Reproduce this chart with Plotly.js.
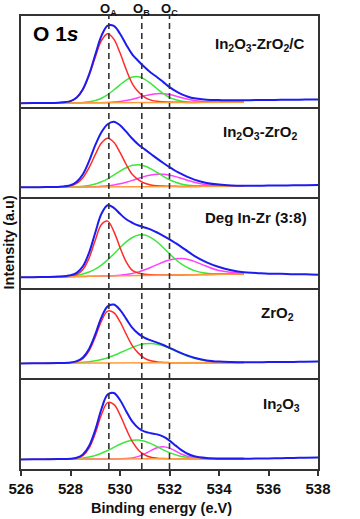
<!DOCTYPE html>
<html><head><meta charset="utf-8">
<script src="https://cdn.plot.ly/plotly-3.0.1.min.js"></script>
<style>html,body{margin:0;padding:0;background:#fff}#chart{width:360px;height:519px}</style>
</head><body><div id="chart"></div>
<script>
const ENERGY_FULL = [526, 526.5, 527, 527.5, 528, 528.25, 528.5, 528.75, 529, 529.25, 529.5, 529.75, 530, 530.25, 530.5, 530.75, 531, 531.25, 531.5, 531.75, 532, 532.25, 532.5, 532.75, 533, 533.5, 534, 534.5, 535, 535.5, 536, 536.5, 537, 537.5, 538];
const ENERGY_FIT = [527, 527.5, 528, 528.25, 528.5, 528.75, 529, 529.25, 529.5, 529.75, 530, 530.25, 530.5, 530.75, 531, 531.25, 531.5, 531.75, 532, 532.25, 532.5, 532.75, 533, 533.5, 534, 535];
const BG_ENERGY = [526, 535];
const TICK_VALUES = [526, 528, 530, 532, 534, 536, 538];
const PEAK_LINES = [529.55, 530.88, 532.0];
const PEAK_LABELS = ['O<sub>A</sub>', 'O<sub>B</sub>', 'O<sub>C</sub>'];
const SAMPLE_NAMES = ['In<sub>2</sub>O<sub>3</sub>-ZrO<sub>2</sub>/C', 'In<sub>2</sub>O<sub>3</sub>-ZrO<sub>2</sub>', 'Deg In-Zr (3:8)', 'ZrO<sub>2</sub>', 'In<sub>2</sub>O<sub>3</sub>'];

// Panel 1: In2O3-ZrO2/C
const P1_ENVELOPE = [3.4, 3.5, 3.6, 3.9, 5.5, 9.1, 17.4, 32.1, 51.8, 70.7, 81.0, 80.8, 72.9, 61.9, 52.0, 45.4, 39.3, 33.8, 29.4, 24.5, 19.5, 15.5, 12.3, 9.9, 8.3, 6.8, 6.5, 6.3, 6.4, 6.5, 6.6, 6.8, 6.9, 7.0, 7.2];
const P1_OA = [3.6, 3.75, 5.4, 8.9, 17.0, 31.1, 49.4, 66.1, 72.9, 67.5, 53.8, 37.1, 22.8, 14.5, 9.2, 6.5, 5.25, 4.8, 4.5, 4.3, 4.25, 4.2, 4.2, 4.25, 4.3, 4.4];
const P1_OB = [3.6, 3.65, 3.75, 3.85, 4.15, 4.8, 6.1, 8.35, 12.0, 16.6, 21.8, 26.5, 29.5, 29.8, 27.3, 22.9, 17.8, 13.0, 9.2, 6.8, 5.35, 4.7, 4.4, 4.25, 4.3, 4.4];
const P1_OC = [3.6, 3.65, 3.7, 3.7, 3.75, 3.8, 3.85, 3.95, 4.15, 4.5, 5.1, 6.1, 7.45, 9.1, 10.8, 12.2, 12.95, 12.9, 12.0, 10.6, 8.95, 7.4, 6.1, 4.75, 4.4, 4.4];
const P1_BG = [3.5, 4.4];

// Panel 2: In2O3-ZrO2
const P2_ENVELOPE = [10.0, 10.0, 10.1, 10.3, 12.0, 15.5, 23.0, 36.0, 52.0, 65.0, 73.0, 75.5, 72.0, 65.5, 58.5, 52.5, 47.8, 43.2, 38.6, 34.2, 30.0, 26.2, 23.0, 20.0, 17.6, 14.3, 12.6, 11.8, 11.5, 11.5, 11.6, 11.7, 11.9, 12.0, 12.2];
const P2_OA = [10.0, 10.1, 11.3, 13.9, 19.5, 29.5, 42.5, 54.2, 59.0, 55.0, 44.8, 32.7, 22.6, 17.3, 13.9, 12.3, 11.5, 11.1, 11.0, 10.85, 10.8, 10.75, 10.8, 10.85, 10.9, 11.0];
const P2_OB = [10.0, 10.05, 10.25, 10.5, 11.0, 11.8, 13.25, 15.4, 18.4, 22.15, 26.1, 29.5, 31.85, 32.5, 31.2, 28.35, 24.7, 20.9, 17.45, 14.9, 13.0, 11.95, 11.35, 10.95, 10.9, 11.0];
const P2_OC = [10.0, 10.05, 10.1, 10.15, 10.25, 10.35, 10.55, 10.9, 11.4, 12.25, 13.4, 15.0, 16.85, 18.9, 20.8, 22.25, 23.0, 22.9, 22.05, 20.6, 18.7, 16.75, 15.0, 12.55, 11.4, 11.0];
const P2_BG = [9.95, 11.0];

// Panel 3: Deg In-Zr (3:8)
const P3_ENVELOPE = [10.5, 10.6, 10.8, 11.2, 12.5, 15.0, 21.5, 35.0, 55.0, 74.0, 82.5, 80.0, 74.0, 68.5, 65.0, 62.3, 60.3, 58.2, 55.3, 52.0, 48.5, 44.6, 40.5, 36.2, 32.0, 25.5, 20.8, 17.6, 15.6, 14.9, 14.1, 14.0, 13.5, 13.5, 13.1];
const P3_OA = [10.7, 10.9, 11.5, 13.1, 18.2, 29.7, 47.5, 63.4, 66.7, 56.5, 40.3, 26.0, 17.5, 14.8, 13.5, 13.0, 12.8, 12.75, 12.75, 12.8, 12.9, 13.0, 13.1, 13.3, 13.5, 13.8];
const P3_OB = [10.7, 11.05, 11.8, 12.55, 13.8, 15.8, 18.7, 22.7, 27.9, 33.8, 40.1, 45.9, 50.3, 52.8, 52.7, 50.2, 45.8, 40.1, 34.0, 28.3, 23.5, 19.9, 17.2, 14.6, 13.8, 13.8];
const P3_OC = [10.7, 10.9, 11.1, 11.2, 11.3, 11.45, 11.55, 11.7, 11.9, 12.15, 12.6, 13.3, 14.4, 15.95, 18.0, 20.5, 23.2, 25.8, 27.8, 29.05, 29.2, 28.2, 26.4, 21.5, 17.3, 14.2];
const P3_BG = [10.5, 13.8];

// Panel 4: ZrO2
const P4_ENVELOPE = [15.0, 15.1, 15.2, 15.4, 16.0, 17.3, 21.0, 29.5, 44.0, 61.0, 72.0, 73.8, 68.5, 59.5, 50.5, 44.5, 40.5, 38.0, 35.8, 33.4, 30.6, 27.8, 25.0, 22.6, 20.6, 18.0, 16.8, 16.3, 16.1, 16.2, 16.3, 16.4, 16.5, 16.7, 16.8];
const P4_OA = [15.2, 15.25, 15.55, 16.5, 19.7, 27.5, 41.25, 57.35, 67.3, 65.7, 56.7, 44.2, 32.55, 25.05, 20.1, 17.6, 16.5, 16.0, 15.75, 15.6, 15.55, 15.6, 15.6, 15.65, 15.7, 15.8];
const P4_OB = [15.2, 15.3, 15.5, 15.7, 16.05, 16.65, 17.55, 18.9, 20.7, 22.9, 25.6, 28.3, 31.05, 33.3, 34.6, 35.0, 34.2, 32.5, 30.15, 27.35, 24.6, 22.1, 20.1, 17.45, 16.25, 15.8];
const P4_BG = [15.1, 15.8];

// Panel 5: In2O3
const P5_ENVELOPE = [9.6, 9.7, 9.8, 9.9, 10.3, 11.3, 14.5, 23.0, 39.0, 60.0, 74.5, 76.0, 69.0, 57.8, 47.3, 40.8, 37.4, 35.8, 34.6, 32.3, 28.4, 23.4, 18.6, 15.0, 12.7, 10.9, 10.3, 10.2, 10.3, 10.4, 10.6, 10.8, 11.0, 11.3, 11.5];
const P5_OA = [9.8, 9.85, 10.0, 10.7, 13.35, 20.85, 35.5, 54.35, 66.35, 64.55, 54.2, 40.1, 27.3, 18.8, 14.05, 11.65, 10.8, 10.45, 10.3, 10.25, 10.25, 10.3, 10.3, 10.35, 10.4, 10.5];
const P5_OB = [9.8, 9.9, 10.15, 10.5, 11.05, 12.05, 13.5, 15.7, 18.45, 21.55, 24.75, 27.3, 28.8, 29.05, 27.75, 25.35, 22.35, 19.15, 16.4, 14.1, 12.5, 11.5, 10.9, 10.5, 10.4, 10.5];
const P5_OC = [9.8, 9.85, 9.9, 9.9, 9.95, 9.95, 10.0, 10.0, 10.05, 10.1, 10.2, 10.45, 11.1, 12.6, 15.15, 18.45, 21.25, 22.3, 20.9, 17.9, 14.75, 12.45, 11.15, 10.4, 10.4, 10.5];
const P5_BG = [9.7, 10.5];

const PANELS = [
  {env: P1_ENVELOPE, oa: P1_OA, ob: P1_OB, oc: P1_OC, bg: P1_BG},
  {env: P2_ENVELOPE, oa: P2_OA, ob: P2_OB, oc: P2_OC, bg: P2_BG},
  {env: P3_ENVELOPE, oa: P3_OA, ob: P3_OB, oc: P3_OC, bg: P3_BG},
  {env: P4_ENVELOPE, oa: P4_OA, ob: P4_OB, oc: null, bg: P4_BG},
  {env: P5_ENVELOPE, oa: P5_OA, ob: P5_OB, oc: P5_OC, bg: P5_BG}
];

const COLORS = {env: '#1c1cf0', oa: '#ff2a2a', ob: '#3ee63e', oc: '#ff40ff', bg: '#ff9b3d'};
const FONT = 'Liberation Sans, Arial, sans-serif';
const AXIS_COLOR = '#333333';
const N = PANELS.length;
const LABEL_POS = [
  {x: 0.9596, y: 0.937},
  {x: 0.936, y: 0.743},
  {x: 0.970, y: 0.556},
  {x: 0.926, y: 0.343},
  {x: 0.946, y: 0.1413}
];

const traces = [];
const layout = {
  width: 360, height: 519,
  margin: {l: 21, r: 42, t: 16, b: 50},
  paper_bgcolor: '#ffffff', plot_bgcolor: '#ffffff',
  showlegend: false,
  font: {family: FONT, color: '#111'},
  shapes: [], annotations: []
};

PANELS.forEach((p, i) => {
  const k = i + 1;
  const sfx = k === 1 ? '' : String(k);
  const xa = 'x' + sfx, ya = 'y' + sfx;
  [[p.oc, COLORS.oc], [p.ob, COLORS.ob], [p.oa, COLORS.oa]].forEach(([vals, col]) => {
    if (!vals) return;
    traces.push({x: ENERGY_FIT, y: vals, xaxis: xa, yaxis: ya, type: 'scatter', mode: 'lines',
      line: {color: col, width: 1.5, shape: 'spline'}, hoverinfo: 'skip'});
  });
  traces.push({x: BG_ENERGY, y: p.bg, xaxis: xa, yaxis: ya, type: 'scatter', mode: 'lines',
    line: {color: COLORS.bg, width: 1.5}, hoverinfo: 'skip'});
  traces.push({x: ENERGY_FULL, y: p.env, xaxis: xa, yaxis: ya, type: 'scatter', mode: 'lines',
    line: {color: COLORS.env, width: 2, shape: 'spline'}, hoverinfo: 'skip'});

  const isBottom = k === N;
  layout['xaxis' + sfx] = {
    domain: [0, 1], range: [526, 538], anchor: ya,
    showline: true, mirror: k === 1, linecolor: AXIS_COLOR, linewidth: 2,
    showgrid: false, zeroline: false,
    tickvals: isBottom ? TICK_VALUES : [], ticktext: isBottom ? TICK_VALUES.map(String) : [],
    ticks: isBottom ? 'outside' : '', ticklen: 5, tickwidth: 2, tickcolor: AXIS_COLOR,
    showticklabels: isBottom,
    tickfont: {family: FONT, size: 15, color: '#111', weight: 'bold'}
  };
  layout['yaxis' + sfx] = {
    domain: [(N - k) / N, (N - k + 1) / N], range: [0, 90.6], anchor: xa,
    showline: true, mirror: true, linecolor: AXIS_COLOR, linewidth: 2,
    showgrid: false, zeroline: false, ticks: '', showticklabels: false, tickvals: []
  };
  layout.annotations.push({
    xref: 'paper', yref: 'paper', x: LABEL_POS[i].x, y: LABEL_POS[i].y,
    xanchor: 'right', yanchor: 'middle', showarrow: false,
    text: '<b>' + SAMPLE_NAMES[i] + '</b>',
    font: {family: FONT, size: 15, color: '#111'}
  });
});

PEAK_LINES.forEach((v, j) => {
  layout.shapes.push({type: 'line', xref: 'x', yref: 'paper', x0: v, x1: v, y0: 0, y1: 1,
    line: {color: '#333', width: 1.6, dash: '6px,4px'}});
  layout.annotations.push({xref: 'x', yref: 'paper', x: v, y: 1.0353, yanchor: 'top', xanchor: 'center',
    showarrow: false, borderpad: 0, text: '<b>' + PEAK_LABELS[j] + '</b>', font: {family: FONT, size: 13, color: '#111'}});
});

layout.annotations.push({xref: 'paper', yref: 'paper', x: 0.0327, y: 0.9603, xanchor: 'left', yanchor: 'middle',
  showarrow: false, text: '<b>O 1<i>s</i></b>', font: {family: FONT, size: 21, color: '#000'}});
layout.annotations.push({xref: 'paper', yref: 'paper', x: 0.474, y: -0.086, xanchor: 'center', yanchor: 'middle',
  showarrow: false, text: '<b>Binding energy (e.V)</b>', font: {family: FONT, size: 14.5, color: '#111'}});
layout.annotations.push({xref: 'paper', yref: 'paper', x: 0, y: 0.5, xshift: -13, xanchor: 'center', yanchor: 'middle',
  textangle: -90, showarrow: false, text: '<b>Intensity (a.u)</b>', font: {family: FONT, size: 14.5, color: '#111'}});

Plotly.newPlot('chart', traces, layout, {staticPlot: true, displayModeBar: false});
</script>
</body></html>
